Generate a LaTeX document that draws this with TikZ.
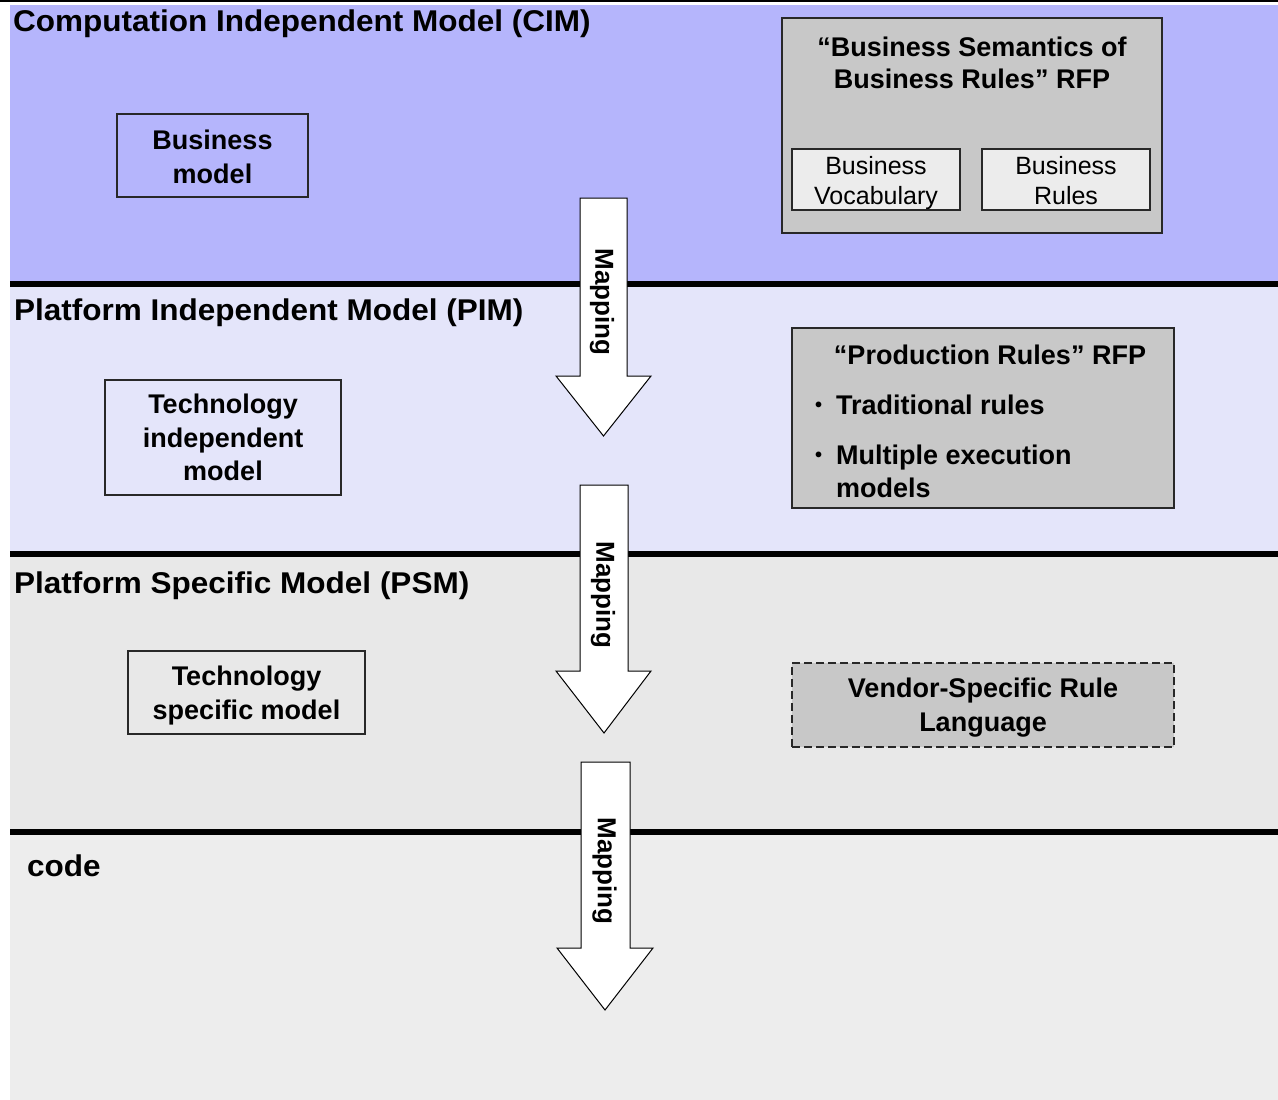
\documentclass[tikz,border=0pt]{standalone}
\usepackage{fontspec}
\setmainfont{Liberation Sans}
\usepackage{graphicx}
\definecolor{cimbg}{RGB}{181,181,252}
\definecolor{pimbg}{RGB}{228,229,250}
\definecolor{psmbg}{RGB}{232,232,232}
\definecolor{codebg}{RGB}{237,237,237}
\definecolor{rfpgray}{RGB}{200,200,200}
\definecolor{innergray}{RGB}{236,236,236}
\definecolor{edge}{RGB}{40,40,40}
\tikzset{
  layertitle/.style={anchor=base west, inner sep=0pt, font=\fontsize{30}{36}\selectfont\bfseries},
  modelbox/.style={draw=edge, line width=1.5pt, inner sep=0pt, align=center,
     font=\fontsize{27}{33.5}\selectfont\bfseries},
  rfpbox/.style={draw=edge, line width=1.5pt, fill=rfpgray, inner sep=0pt},
  innerbox/.style={draw=edge, line width=1.5pt, fill=innergray, inner sep=0pt},
  innertext/.style={inner sep=0pt, align=center, font=\fontsize{25}{30}\selectfont},
  rfptext/.style={inner sep=0pt, align=center, font=\fontsize{27}{32}\selectfont\bfseries},
  bullettext/.style={anchor=base west, inner sep=0pt, font=\fontsize{27}{32}\selectfont\bfseries},
  vendorbox/.style={draw=edge, line width=1.5pt, dash pattern=on 8pt off 4pt, fill=rfpgray,
     inner sep=0pt, align=center, font=\fontsize{27}{34}\selectfont\bfseries},
  arrowshape/.style={draw=black, line width=1pt, fill=white, line join=miter},
  maplabel/.style={rotate=-90, inner sep=0pt, font=\fontsize{26}{30}\selectfont\bfseries},
  separator/.style={line width=6pt, draw=black}
}
\newcommand{\rfpbullet}{\makebox[21pt][l]{\raisebox{3pt}{\fontsize{20}{20}\selectfont•}}}
\begin{document}
\begin{tikzpicture}[x=1pt,y=-1pt]
\useasboundingbox (0,0) rectangle (1278,1100);
\fill[white] (0,0) rectangle (1278,1100);
% layers
\fill[cimbg] (10,5) rectangle (1278,281);
\fill[pimbg] (10,287) rectangle (1278,551);
\fill[psmbg] (10,557) rectangle (1278,829);
\fill[codebg] (10,835) rectangle (1278,1100);
\draw[line width=1.5pt] (0,1) -- (1278,1);
\draw[separator] (10,284) -- (1278,284);
\draw[separator] (10,554) -- (1278,554);
\draw[separator] (10,832) -- (1278,832);

% layer titles
\node[layertitle] (cimt) at (13,31) {\scalebox{1.05}[1]{Computation Independent Model (CIM)}};
\node[layertitle] (pimt) at (14,320) {\scalebox{1.05}[1]{Platform Independent Model (PIM)}};
\node[layertitle] (psmt) at (14,593) {\scalebox{1.05}[1]{Platform Specific Model (PSM)}};
\node[layertitle] (codet) at (27,876) {\scalebox{1.05}[1]{code}};

% left model boxes
\node[modelbox, minimum width=191pt, minimum height=83pt] (bm) at (212.5,155.5) {};
\node[modelbox, draw=none] (bmt) at (212.5,157) {Business\\model};
\node[modelbox, minimum width=236pt, minimum height=115pt] (tim) at (223,437.5) {Technology\\independent\\model};
\node[modelbox, minimum width=237pt, minimum height=83pt] (tsm) at (246.5,692.5) {};
\node[modelbox, draw=none] (tsmt) at (246.5,695.5) {Technology\\specific model};

% CIM RFP
\node[rfpbox, minimum width=380pt, minimum height=215pt] (bsbr) at (972,125.5) {};
\node[rfptext] (bsbrt) at (972,63) {“Business Semantics of\\Business Rules” RFP};
\node[innerbox, minimum width=168pt, minimum height=61pt] (bv) at (876,179.5) {};
\node[innertext] (bvt) at (876,183.5) {Business\\Vocabulary};
\node[innerbox, minimum width=168pt, minimum height=61pt] (br) at (1066,179.5) {};
\node[innertext] (brt) at (1066,183.5) {Business\\Rules\vphantom{y}};

% PIM RFP
\node[rfpbox, minimum width=382pt, minimum height=180pt] (prr) at (983,418) {};
\node[rfptext] (prrt) at (990,355) {“Production Rules” RFP};
\node[bullettext] (b1) at (815,414) {\rfpbullet Traditional rules};
\node[bullettext] (b2) at (815,464) {\rfpbullet Multiple execution};
\node[bullettext] (b3) at (836,497) {models};

% PSM vendor
\node[vendorbox, minimum width=382pt, minimum height=84pt] (vsrl) at (983,705) {};
\node[vendorbox, draw=none, fill=none] (vsrlt) at (983,708) {Vendor-Specific Rule\\Language};

% mapping arrows
\draw[arrowshape] (580,198) -- (627,198) -- (627,376) -- (651,376) -- (603.5,436) -- (556,376) -- (580,376) -- cycle;
\draw[arrowshape] (580,485) -- (628,485) -- (628,671) -- (651,671) -- (604,733) -- (556,671) -- (580,671) -- cycle;
\draw[arrowshape] (581,762) -- (630,762) -- (630,948) -- (653,948) -- (605,1010) -- (557,948) -- (581,948) -- cycle;
\node[maplabel] (m1) at (602,302) {Mapping};
\node[maplabel] (m2) at (603,595) {Mapping};
\node[maplabel] (m3) at (604.5,871) {Mapping};
\end{tikzpicture}
\end{document}
